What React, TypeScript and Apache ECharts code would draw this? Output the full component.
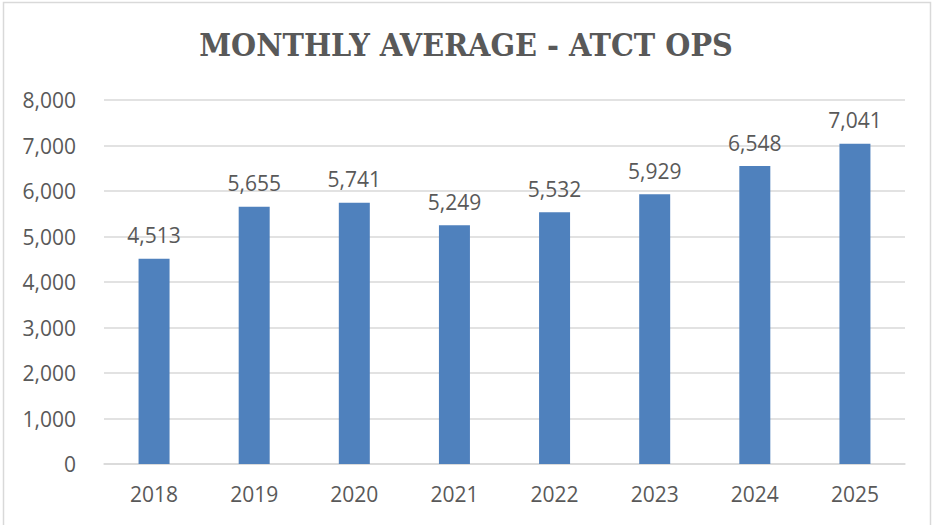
import React, { useEffect, useRef } from "react";
import * as echarts from "echarts";

const titleText = "MONTHLY AVERAGE - ATCT OPS";
const years = ["2018", "2019", "2020", "2021", "2022", "2023", "2024", "2025"];
const opsValues = [4513, 5655, 5741, 5249, 5532, 5929, 6548, 7041];
const yTicks = { min: 0, max: 8000, interval: 1000 };

const fmt = (v: number) => v.toLocaleString("en-US");

export default function App() {
  const ref = useRef<HTMLDivElement>(null);
  useEffect(() => {
    if (!ref.current) return;
    const chart = echarts.init(ref.current, null, { renderer: "svg" });
    chart.setOption({
      animation: false,
      backgroundColor: "#ffffff",
      graphic: [
        {
          type: "rect",
          shape: { x: 3.5, y: 2.5, width: 927, height: 530 },
          style: { fill: "none", stroke: "#d9d9d9", lineWidth: 1.5 },
          silent: true,
        },
      ],
      title: {
        text: titleText,
        left: "center",
        top: 24,
        textStyle: {
          fontFamily: "DejaVu Serif Condensed",
          fontWeight: "bold",
          fontSize: 32,
          color: "#595959",
        },
      },
      grid: { left: 104, right: 27, top: 100, bottom: 61, containLabel: false },
      xAxis: {
        type: "category",
        data: years,
        axisLine: { lineStyle: { color: "#d9d9d9", width: 1.5 } },
        axisTick: { show: false },
        axisLabel: {
          color: "#595959",
          fontFamily: "Open Sans",
          fontSize: 21,
          margin: 19,
        },
      },
      yAxis: {
        type: "value",
        min: yTicks.min,
        max: yTicks.max,
        interval: yTicks.interval,
        axisLine: { show: false },
        axisTick: { show: false },
        splitLine: { lineStyle: { color: "#d9d9d9", width: 1.5 } },
        axisLabel: {
          color: "#595959",
          fontFamily: "Open Sans",
          fontSize: 21,
          margin: 28,
          formatter: (v: number) => fmt(v),
        },
      },
      series: [
        {
          type: "bar",
          data: opsValues,
          barWidth: 31,
          itemStyle: { color: "#4f81bd" },
          label: {
            show: true,
            position: "top",
            distance: 13,
            color: "#595959",
            fontFamily: "Open Sans",
            fontSize: 21,
            formatter: (p: any) => fmt(p.value),
          },
        },
      ],
    });
    return () => chart.dispose();
  }, []);
  return (
    <div
      ref={ref}
      style={{ position: "fixed", left: 0, top: 0, width: 932, height: 525 }}
    />
  );
}
